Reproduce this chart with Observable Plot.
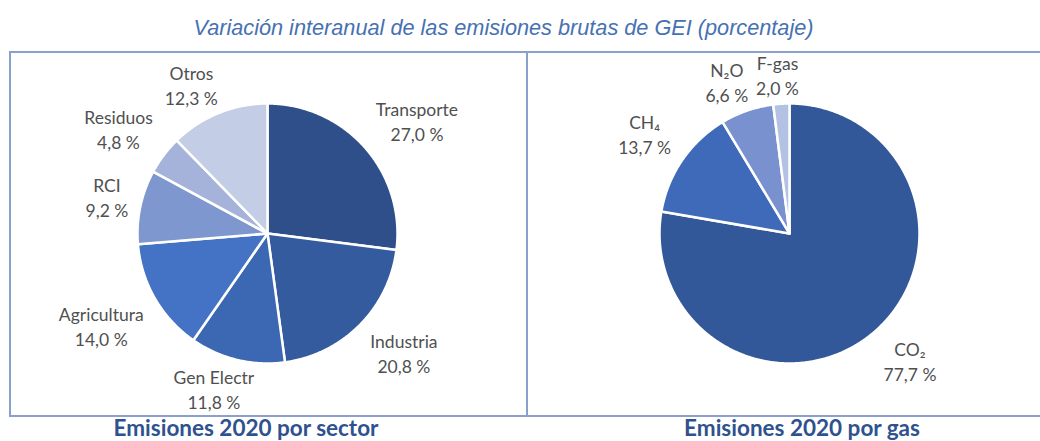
<!DOCTYPE html>
<html><head><meta charset="utf-8">
<script src="https://cdn.jsdelivr.net/npm/d3@7"></script>
<script src="https://cdn.jsdelivr.net/npm/@observablehq/plot@0.6"></script>
<style>
body{margin:0;background:#fff;width:1040px;height:441px;overflow:hidden;position:relative;}
#title{position:absolute;left:0;width:1007px;top:17px;text-align:center;font:italic 21.7px/1 "Liberation Sans",Arial,sans-serif;color:#4671b2;white-space:nowrap;}
#frame{position:absolute;left:9px;top:51px;width:1100px;height:362px;border:2px solid #8aa1cc;}
#divider{position:absolute;left:526px;top:51px;width:2px;height:366px;background:#8aa1cc}
#left{position:absolute;left:11px;top:53px;}
#right{position:absolute;left:528px;top:53px;}
.sub{position:absolute;top:417px;font:bold 22.5px/1 Lato,sans-serif;color:#2f528f;white-space:nowrap;transform:translateX(-50%)}
svg{overflow:visible}
</style></head>
<body>
<div id="title">Variación interanual de las emisiones brutas de GEI (porcentaje)</div>
<div id="frame"></div>
<div id="divider"></div>
<div id="left"></div>
<div id="right"></div>
<div class="sub" style="left:246px">Emisiones 2020 por sector</div>
<div class="sub" style="left:802px">Emisiones 2020 por gas</div>
<script>
// Data
const sectorNames = ["Transporte","Industria","Gen Electr","Agricultura","RCI","Residuos","Otros"];
const sectorValues = [27.0, 20.8, 11.8, 14.0, 9.2, 4.8, 12.3];
const sectorColors = ["#2f4f8b","#355b9f","#3c67b3","#4472c4","#7f97cf","#a5b3da","#c3cde6"];

const gasNames = ["CO₂","CH₄","N₂O","F-gas"];
const gasValues = [77.7, 13.7, 6.6, 2.0];
const gasColors = ["#33589a","#3f6ab9","#7a91cf","#b3c1e3"];

const LABEL_FONT = 17.5;
const LABEL_FAMILY = "Lato, sans-serif";
const ctx = document.createElement("canvas").getContext("2d");
ctx.font = `${LABEL_FONT}px Lato`;

function fmt(v){ return v.toFixed(1).replace(".", ",") + " %"; }
const clamp = v => Math.max(-1, Math.min(1, v));

function pieChart(names, values, colors, W, cx) {
  const H = 362, cy = 180, R = 130, gap = 5, halfH = 24, padX = 7;
  const arcs = d3.pie().sort(null).value(d => d)(values);
  const pts = [];
  const labels = [];
  arcs.forEach((a, i) => {
    const n = Math.max(2, Math.ceil((a.endAngle - a.startAngle) / (Math.PI / 360)));
    pts.push({name: names[i], x: cx, y: cy});
    for (let k = 0; k <= n; k++) {
      const t = a.startAngle + (a.endAngle - a.startAngle) * k / n;
      pts.push({name: names[i], x: cx + R * Math.sin(t), y: cy - R * Math.cos(t)});
    }
    pts.push({name: names[i], x: cx, y: cy});
    const th = (a.startAngle + a.endAngle) / 2;
    const s = Math.sin(th), c = Math.cos(th);
    const w = Math.max(ctx.measureText(names[i]).width, ctx.measureText(fmt(values[i])).width);
    labels.push({
      text: names[i] + "\n" + fmt(values[i]),
      x: cx + (R + gap) * s + (w / 2 + padX) * clamp(2 * s),
      y: cy - (R + gap) * c - halfH * clamp(2 * c)
    });
  });
  return Plot.plot({
    width: W, height: H,
    margin: 0,
    x: {domain: [0, W], range: [0, W], axis: null},
    y: {domain: [0, H], range: [0, H], axis: null},
    color: {domain: names, range: colors},
    style: {background: "transparent", overflow: "visible"},
    marks: [
      Plot.line(pts, {x: "x", y: "y", z: "name", fill: "name", stroke: "white", strokeWidth: 2.5, strokeLinejoin: "round", curve: "linear"}),
      Plot.text(labels, {x: "x", y: "y", text: "text", fontSize: LABEL_FONT, fontFamily: LABEL_FAMILY, fill: "#505050", lineHeight: 1.43, textAnchor: "middle"})
    ]
  });
}

document.getElementById("left").append(pieChart(sectorNames, sectorValues, sectorColors, 515, 256));
document.getElementById("right").append(pieChart(gasNames, gasValues, gasColors, 512, 261));
</script>
</body></html>
